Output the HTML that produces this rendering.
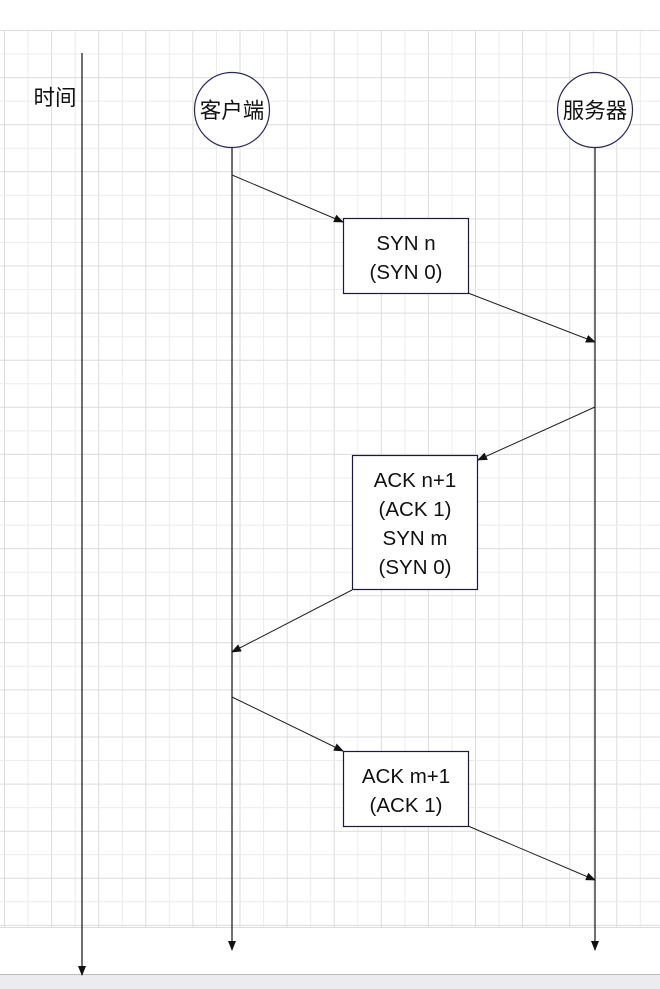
<!DOCTYPE html>
<html><head><meta charset="utf-8"><style>
html,body{margin:0;padding:0;background:#fff;}
svg{display:block;}
text{font-family:"Liberation Sans","Noto Sans CJK SC",sans-serif;font-size:20.5px;fill:#111;text-anchor:middle;}
text.c{font-size:21.5px;}
</style></head><body>
<svg width="660" height="989" viewBox="0 0 660 989" xmlns="http://www.w3.org/2000/svg">
<defs>
<marker id="a" markerWidth="10" markerHeight="10" refX="9" refY="5" orient="auto" markerUnits="userSpaceOnUse">
<path d="M0,1 L10,5 L0,9 Z" fill="#111"/></marker>
</defs>
<g id="grid"></g>
<rect x="0" y="974" width="660" height="15" fill="#ebebf0"/>
<line x1="0" y1="974.5" x2="660" y2="974.5" stroke="#bbb"/>
<line x1="82" y1="53" x2="82" y2="975" stroke="#111" stroke-width="1.2" marker-end="url(#a)"/>
<text class="c" x="55" y="105">时间</text>
<circle cx="232" cy="110" r="37.5" fill="#fff" stroke="#2a2a55" stroke-width="1.2"/>
<text class="c" x="232" y="118">客户端</text>
<circle cx="595" cy="110" r="37.5" fill="#fff" stroke="#2a2a55" stroke-width="1.2"/>
<text class="c" x="595" y="118">服务器</text>
<line x1="232" y1="148" x2="232" y2="950" stroke="#111" stroke-width="1.2" marker-end="url(#a)"/>
<line x1="595" y1="148" x2="595" y2="950" stroke="#111" stroke-width="1.2" marker-end="url(#a)"/>
<g stroke="#222" stroke-width="1" fill="none">
<line x1="232" y1="175" x2="343" y2="222" marker-end="url(#a)"/>
<line x1="468" y1="293" x2="595" y2="342" marker-end="url(#a)"/>
<line x1="595" y1="407" x2="478" y2="460" marker-end="url(#a)"/>
<line x1="352" y1="590" x2="232" y2="652" marker-end="url(#a)"/>
<line x1="232" y1="697" x2="343" y2="751" marker-end="url(#a)"/>
<line x1="468" y1="826" x2="595" y2="880" marker-end="url(#a)"/>
</g>
<rect x="343.5" y="218.5" width="125" height="75" fill="#fff" stroke="#1a1a40" stroke-width="1.2"/>
<text x="406" y="250">SYN n</text>
<text x="406" y="279">(SYN 0)</text>
<rect x="352.5" y="455.5" width="125" height="134" fill="#fff" stroke="#1a1a40" stroke-width="1.2"/>
<text x="415" y="487">ACK n+1</text>
<text x="415" y="516">(ACK 1)</text>
<text x="415" y="545">SYN m</text>
<text x="415" y="574">(SYN 0)</text>
<rect x="343.5" y="751.5" width="125" height="75" fill="#fff" stroke="#1a1a40" stroke-width="1.2"/>
<text x="406" y="783">ACK m+1</text>
<text x="406" y="812">(ACK 1)</text>
</svg>
<script>
(function(){
var g=document.getElementById('grid'),s='';
var i=0;
for(var x=4.5;x<=660;x+=23.55,i++){s+='<line x1="'+x.toFixed(1)+'" y1="30" x2="'+x.toFixed(1)+'" y2="927" stroke="'+(i%2==0?'#dcdcdc':'#ececec')+'" stroke-width="1"/>';}
i=0;
for(var y=30.5;y<=928;y+=23.55,i++){s+='<line x1="0" y1="'+y.toFixed(1)+'" x2="660" y2="'+y.toFixed(1)+'" stroke="'+(i%2==0?'#dcdcdc':'#ececec')+'" stroke-width="1"/>';}
s+='<line x1="0" y1="927.5" x2="660" y2="927.5" stroke="#dcdcdc"/>';
g.innerHTML=s;
})();
</script>
</body></html>
